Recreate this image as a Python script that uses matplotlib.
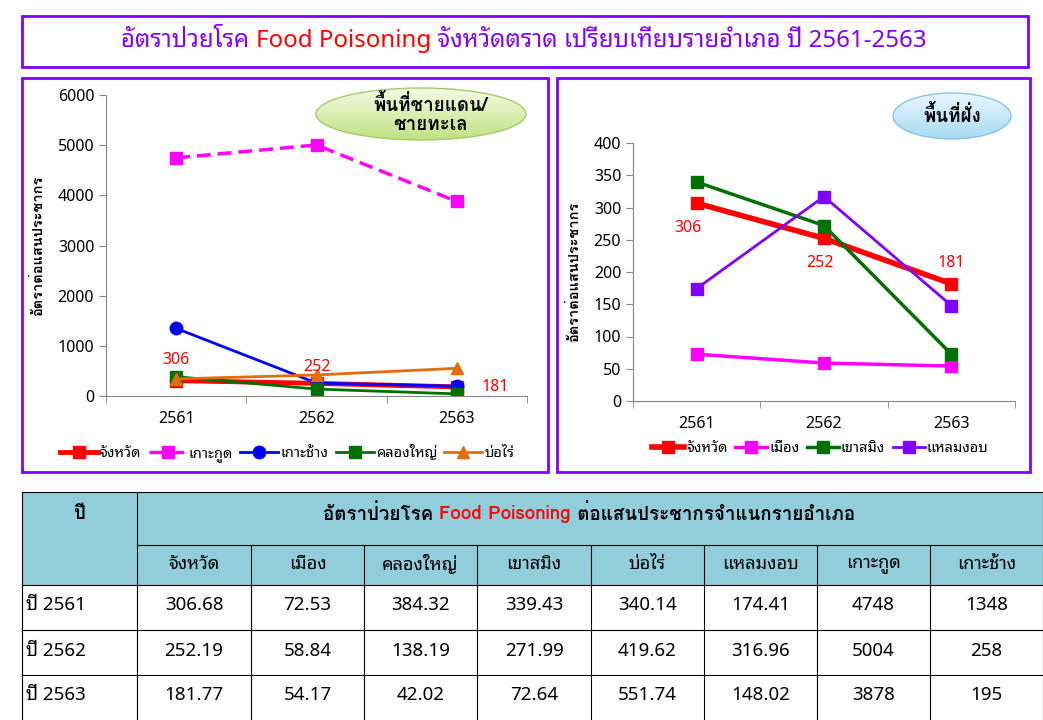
import numpy as np
import matplotlib
matplotlib.use("Agg")
import matplotlib.pyplot as plt
from matplotlib.patches import Rectangle, Ellipse
from matplotlib.colors import LinearSegmentedColormap

# ---- data -------------------------------------------------------------
years = ["2561", "2562", "2563"]
districts = ["จังหวัด", "เมือง", "คลองใหญ่", "เขาสมิง", "บ่อไร่", "แหลมงอบ", "เกาะกูด", "เกาะช้าง"]
rate_province = [306.68, 252.19, 181.77]
rate_mueang = [72.53, 58.84, 54.17]
rate_khlongyai = [384.32, 138.19, 42.02]
rate_khaosaming = [339.43, 271.99, 72.64]
rate_borai = [340.14, 419.62, 551.74]
rate_laemngop = [174.41, 316.96, 148.02]
rate_kokut = [4748, 5004, 3878]
rate_kochang = [1348, 258, 195]

table_rows = [rate_province, rate_mueang, rate_khlongyai, rate_khaosaming,
              rate_borai, rate_laemngop, rate_kokut, rate_kochang]

plt.rcParams["font.family"] = ["Noto Sans Thai Looped", "Loma", "DejaVu Sans"]
BOLD = ["Loma", "DejaVu Sans"]   # has a bold face and raises stacked tone marks

W, H = 1043, 720
PURPLE = "#7F00FF"


def fbox(x0, y0, x1, y1):
    return [x0 / W, 1 - y1 / H, (x1 - x0) / W, (y1 - y0) / H]


fig = plt.figure(figsize=(W / 100, H / 100), dpi=100)
bg = fig.add_axes([0, 0, 1, 1])
bg.axis("off")

# frames
for x0, y0, x1, y1 in [(22, 16, 1028, 67), (22, 78, 548, 472), (557, 78, 1030, 472)]:
    bg.add_patch(Rectangle((x0, y0), x1 - x0, y1 - y0, fill=False, ec=PURPLE, lw=2))


def multicolor(ax, x, y, parts, size, weight="normal", family=None):
    r = fig.canvas.get_renderer()
    texts = [ax.text(0, y, s, color=c, fontsize=size, weight=weight, va="center",
                     family=family or plt.rcParams["font.family"])
             for s, c in parts]
    widths = [t.get_window_extent(r).width for t in texts]
    left = x - sum(widths) / 2
    for t, w in zip(texts, widths):
        t.set_x(left)
        left += w


def bubble(cx, cy, w, h, top, bottom, edge, label, dx=0):
    ell = Ellipse((cx, cy), w, h, fc="none", ec=edge, lw=1)
    bg.add_patch(ell)
    cmap = LinearSegmentedColormap.from_list("g", [top, bottom])
    img = bg.imshow(np.linspace(0, 1, 64).reshape(-1, 1), cmap=cmap, aspect="auto",
                    extent=(cx - w / 2, cx + w / 2, cy + h / 2, cy - h / 2), origin="upper",
                    zorder=0.5)
    img.set_clip_path(ell)
    bg.text(cx + dx, cy, label, ha="center", va="center", fontsize=13.5, weight="bold",
            family=BOLD, linespacing=1.1)


bubble(421, 114, 210, 52, "#F4FBE4", "#BFE283", "#A9C96A", "พื้นที่ชายแดน/\nชายทะเล", dx=10)
bubble(952, 116, 118, 46, "#EAF7FD", "#A6DAF2", "#8CC5E0", "พื้นที่ฝั่ง")
bg.set_xlim(0, W)
bg.set_ylim(H, 0)

multicolor(bg, 524, 41, [("อัตราป่วยโรค ", PURPLE), ("Food Poisoning", "red"),
                         (" จังหวัดตราด เปรียบเทียบรายอำเภอ ปี 2561-2563", PURPLE)], 17.3)

# ---- table ------------------------------------------------------------
cols = [22, 137, 251, 364, 477, 591, 704, 817, 930, 1043]
rows = [492, 545, 585, 630, 675, 720]
bg.add_patch(Rectangle((22, 492), 1021, 93, fc="#92CDDC", ec="none"))
for k, x in enumerate(cols):
    top = 545 if 1 < k < len(cols) - 1 else 492
    bg.plot([x, x], [top, 720], color="black", lw=0.8)
for y in rows[:-1]:
    x0 = 137 if y == 545 else 22
    bg.plot([x0, 1043], [y, y], color="black", lw=0.8)
bg.text(79, 514, "ปี", ha="center", va="center", fontsize=13.5, weight="bold", family=BOLD)
multicolor(bg, 589, 514, [("อัตราป่วยโรค ", "black"), ("Food Poisoning", "red"),
                          (" ต่อแสนประชากรจำแนกรายอำเภอ", "black")], 13.5, "bold", BOLD)
for i, name in enumerate(districts):
    cx = (cols[i + 1] + cols[i + 2]) / 2
    bg.text(cx, 564, name, ha="center", va="center", fontsize=13)
    for j in range(3):
        cy = (rows[j + 2] + rows[j + 3]) / 2 - 2
        bg.text(cx, cy, f"{table_rows[i][j]:g}", ha="center", va="center", fontsize=13.5)
for j, yr in enumerate(years):
    cy = (rows[j + 2] + rows[j + 3]) / 2 - 2
    bg.text(26, cy, "ปี " + yr, ha="left", va="center", fontsize=13.5)


# ---- charts ------------------------------------------------------------
def style(ax, ymax, step):
    x = np.arange(len(years))
    ax.set_facecolor("none")
    ax.set_xlim(-0.5, len(years) - 0.5)
    ax.set_ylim(0, ymax)
    ax.set_yticks(np.arange(0, ymax + 1, step))
    ax.set_xticks(x)
    ax.set_xticklabels(years)
    ax.set_xticks(np.arange(-0.5, len(years)), minor=True)
    ax.tick_params(axis="x", which="major", length=0, pad=11, labelsize=11.5)
    ax.tick_params(axis="x", which="minor", length=5, color="#868686")
    ax.tick_params(axis="y", length=5, color="#868686", labelsize=11.5)
    for s in ["top", "right"]:
        ax.spines[s].set_visible(False)
    for s in ["left", "bottom"]:
        ax.spines[s].set_color("#868686")
    ax.set_ylabel("อัตราต่อแสนประชากร", fontsize=10.5, weight="bold", family=BOLD, labelpad=9)
    return x


ax1 = fig.add_axes(fbox(106, 95, 527, 396))
x = style(ax1, 6000, 1000)
ax1.plot(x, rate_province, color="red", lw=3.5, marker="s", ms=8, label="จังหวัด")
ax1.plot(x, rate_kokut, color="#FF00FF", lw=2.5, ls=(0, (4, 2)), marker="s", ms=9, label="เกาะกูด")
ax1.plot(x, rate_kochang, color="#0000FF", lw=2, marker="o", ms=9, label="เกาะช้าง")
ax1.plot(x, rate_khlongyai, color="#007000", lw=2, marker="s", ms=8, label="คลองใหญ่")
ax1.plot(x, rate_borai, color="#E46C0A", lw=2, marker="^", ms=9, label="บ่อไร่")
for i, (dx, dy) in enumerate([(0, 15), (0, 12), (28, 0)]):
    ax1.annotate(f"{int(rate_province[i])}", (x[i], rate_province[i]), xytext=(dx, dy),
                 textcoords="offset points", color="red", fontsize=11.5, ha="center", va="center")
ax1.legend(loc="center", bbox_to_anchor=(0.43, -0.19), ncol=5, frameon=False, fontsize=10.5,
           handlelength=2.6, handletextpad=0.15, columnspacing=0.5)

ax2 = fig.add_axes(fbox(633, 143, 1015, 401))
x = style(ax2, 400, 50)
ax2.plot(x, rate_province, color="red", lw=4, marker="s", ms=9, label="จังหวัด")
ax2.plot(x, rate_mueang, color="#FF00FF", lw=2.5, marker="s", ms=9, label="เมือง")
ax2.plot(x, rate_khaosaming, color="#007000", lw=2.5, marker="s", ms=9, label="เขาสมิง")
ax2.plot(x, rate_laemngop, color="#7F00FF", lw=2, marker="s", ms=9, label="แหลมงอบ")
for i, (dx, dy) in enumerate([(-6, -18), (-3, -18), (0, 15)]):
    ax2.annotate(f"{int(rate_province[i])}", (x[i], rate_province[i]), xytext=(dx, dy),
                 textcoords="offset points", color="red", fontsize=11.5, ha="center", va="center")
ax2.legend(loc="center", bbox_to_anchor=(0.49, -0.186), ncol=4, frameon=False, fontsize=10.5,
           handlelength=2.2, handletextpad=0.15, columnspacing=0.5)

fig.savefig("out.png", dpi=100)
